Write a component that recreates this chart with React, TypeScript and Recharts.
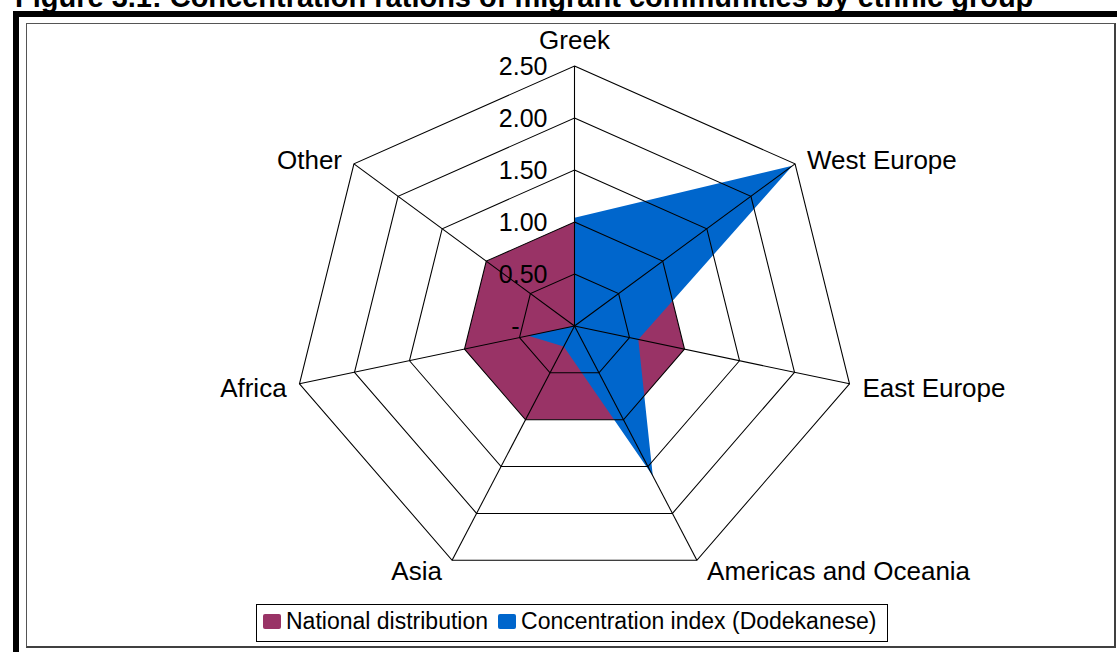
import React from 'react';
import { RadarChart, Radar, PolarGrid, PolarAngleAxis, PolarRadiusAxis, Legend } from 'recharts';

// ---- data ----
const categories = ['Greek', 'West Europe', 'East Europe', 'Americas and Oceania', 'Asia', 'Africa', 'Other'];
const nationalDistribution = [1.0, 1.0, 1.0, 1.0, 1.0, 1.0, 1.0];
const concentrationIndex = [1.04, 2.47, 0.58, 1.6, 0.22, 0.42, 0.0];
const seriesNames = ['National distribution', 'Concentration index (Dodekanese)'];
const seriesColors = ['#993366', '#0066CC'];
const radiusTicks = [0, 0.5, 1, 1.5, 2, 2.5];
const radiusTickLabels = ['-', '0.50', '1.00', '1.50', '2.00', '2.50'];
const radiusDomain = [0, 2.5];
const titleText = 'Figure 3.1: Concentration rations of migrant communities by ethnic group';

const data = categories.map((c, i) => ({
  category: c,
  national: nationalDistribution[i],
  concentration: concentrationIndex[i],
}));

// ---- layout / style ----
const W = 1117;
const H = 652;
const CX = 574.5;
const CY = 326;
const R = 260;
const SX = 1.085; // horizontal stretch of the plot in the reference
const FONT = '"Liberation Sans", Arial, Helvetica, sans-serif';

const AngleTick = (props: any) => {
  const { x, y, payload } = props;
  const ang = Math.atan2(CY - y, x - CX);
  const cos = Math.cos(ang);
  const sin = Math.sin(ang);
  const vx = CX + R * cos * SX;
  const vy = CY - R * sin;
  let anchor: 'start' | 'end' | 'middle' = 'middle';
  let tx = vx;
  let ty = vy;
  if (Math.abs(cos) < 0.01) {
    anchor = 'middle';
    ty = vy - 26.5;
  } else {
    anchor = cos > 0 ? 'start' : 'end';
    tx = vx + (cos > 0 ? 1 : -1) * (8 + 5 * Math.abs(cos));
    ty = vy + 2 - 10 * sin;
  }
  return (
    <text x={tx} y={ty} dy="0.35em" textAnchor={anchor} fontSize={26} fontFamily={FONT} fill="#000">
      {payload.value}
    </text>
  );
};

const RadiusTick = (props: any) => {
  const { x, y, payload, index } = props;
  const idx = radiusTicks.indexOf(payload.value);
  const label = radiusTickLabels[idx >= 0 ? idx : index];
  const fs = 25;
  const pad = label === '-' ? 2 * 0.556 * fs : 0;
  return (
    <text x={x - 27 - pad} y={y} dy="0.35em" textAnchor="end" fontSize={fs} fontFamily={FONT} fill="#000">
      {label}
    </text>
  );
};

const LegendContent = (props: any) => {
  const payload = (props && props.payload) || [];
  const items = seriesNames.map((n, i) => {
    const p = payload.find((e: any) => e.value === n);
    return { name: p ? p.value : n, color: seriesColors[i] };
  });
  return (
    <div
      style={{
        display: 'flex',
        alignItems: 'center',
        height: 38,
        boxSizing: 'border-box',
        border: '1px solid #000',
        paddingLeft: 6,
        paddingRight: 11,
        paddingBottom: 3,
        background: '#fff',
        fontFamily: FONT,
        fontSize: 23,
        color: '#000',
        whiteSpace: 'nowrap',
      }}
    >
      {items.map((it, i) => (
        <React.Fragment key={it.name}>
          <span
            style={{
              display: 'inline-block',
              width: 18,
              height: 15,
              background: it.color,
              borderRadius: 2,
              marginLeft: i ? 10 : 0,
              marginRight: 5,
            }}
          />
          <span>{it.name}</span>
        </React.Fragment>
      ))}
    </div>
  );
};

export default function App() {
  return (
    <div
      style={{
        position: 'absolute',
        left: 0,
        top: 0,
        width: W,
        height: H,
        overflow: 'hidden',
        background: '#fff',
      }}
    >
      <style>{`
        .recharts-polar-grid, .recharts-radar {
          transform: scaleX(${SX});
          transform-origin: ${CX}px ${CY}px;
        }
      `}</style>
      {/* title (cut off at top in the reference) */}
      <div
        style={{
          position: 'absolute',
          left: 15,
          top: -17.5,
          fontFamily: FONT,
          fontWeight: 'bold',
          fontSize: 29,
          lineHeight: '29px',
          whiteSpace: 'nowrap',
          color: '#000',
        }}
      >
        {titleText}
      </div>
      {/* thick outer frame */}
      <div
        style={{
          position: 'absolute',
          left: 13,
          top: 11,
          width: W,
          height: H,
          borderTop: '6px solid #000',
          borderLeft: '6px solid #000',
        }}
      />
      {/* inner chart-area box */}
      <div
        style={{
          position: 'absolute',
          left: 26,
          top: 23,
          width: 1116 - 26,
          height: 648 - 23,
          boxSizing: 'border-box',
          borderTop: '1px solid #555',
          borderLeft: '1px solid #555',
          borderRight: '2px solid #404040',
          borderBottom: '2px solid #404040',
          background: '#fff',
        }}
      />
      <div style={{ position: 'absolute', left: 0, top: 0 }}>
        <RadarChart
          width={W}
          height={H}
          data={data}
          cx={CX}
          cy={CY}
          outerRadius={R}
          margin={{ top: 0, right: 0, bottom: 0, left: 0 }}
        >
          <PolarAngleAxis dataKey="category" tick={AngleTick} axisLine={false} tickLine={false} />
          <PolarRadiusAxis
            type="number"
            scale="linear"
            domain={radiusDomain}
            ticks={radiusTicks}
            tickCount={6}
            allowDecimals={true}
            allowDataOverflow={true}
            angle={90}
            axisLine={false}
            tick={false}
          />
          <Radar
            name={seriesNames[0]}
            dataKey="national"
            fill={seriesColors[0]}
            fillOpacity={1}
            stroke="none"
            isAnimationActive={false}
          />
          <Radar
            name={seriesNames[1]}
            dataKey="concentration"
            fill={seriesColors[1]}
            fillOpacity={1}
            stroke="none"
            isAnimationActive={false}
          />
          <PolarGrid stroke="#000" strokeWidth={1} gridType="polygon" radialLines={true} {...({ zIndex: 600 } as any)} />
          <PolarRadiusAxis
            type="number"
            scale="linear"
            domain={radiusDomain}
            ticks={radiusTicks}
            tickCount={6}
            allowDecimals={true}
            allowDataOverflow={true}
            angle={90}
            axisLine={false}
            tick={RadiusTick}
          />
          <Legend
            verticalAlign="bottom"
            content={LegendContent}
            wrapperStyle={{ left: 256, top: 604, bottom: 'auto', width: 'auto', height: 'auto' }}
          />
        </RadarChart>
      </div>
    </div>
  );
}
